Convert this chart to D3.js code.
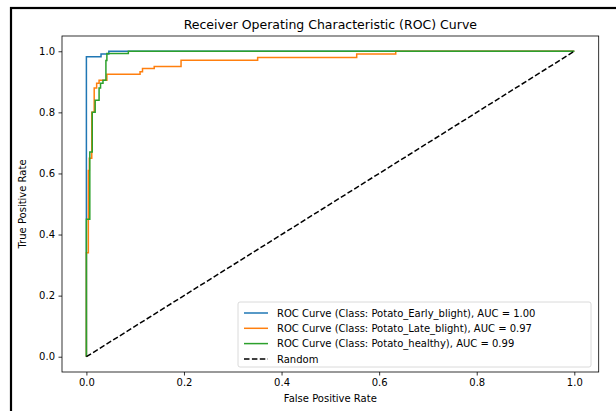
<!DOCTYPE html>
<html>
<head>
<meta charset="utf-8">
<script src="https://cdn.jsdelivr.net/npm/d3@7"></script>
<style>
  body { margin: 0; background: #fff; }
  text { font-family: "DejaVu Sans", sans-serif; fill: #000; }
</style>
</head>
<body>
<script>
const width = 616;
const height = 411;

// データ
const classNames = ["Potato_Early_blight", "Potato_Late_blight", "Potato_healthy"];
const aucValues = [1.00, 0.97, 0.99];
const colors = ["#1f77b4", "#ff7f0e", "#2ca02c"];

const fprEarly = [0, 0, 0.03, 0.03, 0.046, 0.046, 1];
const tprEarly = [0, 0.982, 0.982, 0.991, 0.991, 1, 1];

const fprLate = [0, 0, 0.004, 0.004, 0.006, 0.006, 0.011, 0.011, 0.016, 0.016, 0.021, 0.021, 0.026, 0.026, 0.042, 0.042,
  0.11, 0.11, 0.115, 0.115, 0.139, 0.139, 0.194, 0.194, 0.351, 0.351, 0.554, 0.554, 0.634, 0.634, 1];
const tprLate = [0, 0.34, 0.34, 0.61, 0.61, 0.65, 0.65, 0.80, 0.80, 0.88, 0.88, 0.895, 0.895, 0.905, 0.905, 0.925,
  0.925, 0.933, 0.933, 0.944, 0.944, 0.95, 0.95, 0.971, 0.971, 0.98, 0.98, 0.991, 0.991, 1, 1];

const fprHealthy = [0, 0, 0.007, 0.007, 0.012, 0.012, 0.018, 0.018, 0.026, 0.026, 0.029, 0.029, 0.034, 0.034,
  0.04, 0.04, 0.042, 0.042, 0.086, 0.086, 1];
const tprHealthy = [0, 0.45, 0.45, 0.67, 0.67, 0.80, 0.80, 0.84, 0.84, 0.88, 0.88, 0.895, 0.895, 0.905,
  0.905, 0.97, 0.97, 0.993, 0.993, 1, 1];

const randomLine = [0, 1];
const xTicks = [0.0, 0.2, 0.4, 0.6, 0.8, 1.0];
const yTicks = [0.0, 0.2, 0.4, 0.6, 0.8, 1.0];

const curves = [
  { fpr: fprEarly, tpr: tprEarly },
  { fpr: fprLate, tpr: tprLate },
  { fpr: fprHealthy, tpr: tprHealthy }
];

// 描画領域
const plot = { left: 62, top: 36, right: 598.7, bottom: 372 };

const svg = d3.select("body").append("svg")
  .attr("width", width)
  .attr("height", height);

// 外枠
svg.append("rect")
  .attr("x", 11)
  .attr("y", 8)
  .attr("width", width)
  .attr("height", height)
  .attr("fill", "none")
  .attr("stroke", "#000")
  .attr("stroke-width", 2.2);

const x = d3.scaleLinear().domain([-0.05, 1.05]).range([plot.left, plot.right]);
const y = d3.scaleLinear().domain([-0.05, 1.05]).range([plot.bottom, plot.top]);

const line = d3.line()
  .x(d => x(d[0]))
  .y(d => y(d[1]));

// ROC曲線
const g = svg.append("g");
curves.forEach((c, i) => {
  g.append("path")
    .datum(d3.zip(c.fpr, c.tpr))
    .attr("d", line)
    .attr("fill", "none")
    .attr("stroke", colors[i])
    .attr("stroke-width", 1.5)
    .attr("stroke-linejoin", "miter");
});

g.append("path")
  .datum(d3.zip(randomLine, randomLine))
  .attr("d", line)
  .attr("fill", "none")
  .attr("stroke", "#000")
  .attr("stroke-width", 1.5)
  .attr("stroke-dasharray", "5.5,2.4");

// 軸
const xAxis = svg.append("g")
  .attr("transform", `translate(0,${plot.bottom})`)
  .call(d3.axisBottom(x).tickValues(xTicks).tickFormat(d3.format(".1f")).tickSize(3.5).tickPadding(3.5));
const yAxis = svg.append("g")
  .attr("transform", `translate(${plot.left},0)`)
  .call(d3.axisLeft(y).tickValues(yTicks).tickFormat(d3.format(".1f")).tickSize(3.5).tickPadding(3.5));

[xAxis, yAxis].forEach(a => {
  a.select(".domain").remove();
  a.selectAll("line").attr("stroke", "#000").attr("stroke-width", 0.8);
  a.selectAll("text").style("font-family", "DejaVu Sans").style("font-size", "10px").attr("fill", "#000");
});

// 枠線
svg.append("rect")
  .attr("x", plot.left)
  .attr("y", plot.top)
  .attr("width", plot.right - plot.left)
  .attr("height", plot.bottom - plot.top)
  .attr("fill", "none")
  .attr("stroke", "#000")
  .attr("stroke-width", 0.8);

// タイトル・ラベル
svg.append("text")
  .attr("x", (plot.left + plot.right) / 2)
  .attr("y", 29)
  .attr("text-anchor", "middle")
  .style("font-size", "12.5px")
  .text("Receiver Operating Characteristic (ROC) Curve");

svg.append("text")
  .attr("x", (plot.left + plot.right) / 2)
  .attr("y", 402)
  .attr("text-anchor", "middle")
  .style("font-size", "10px")
  .text("False Positive Rate");

svg.append("text")
  .attr("transform", `translate(26,${(plot.top + plot.bottom) / 2}) rotate(-90)`)
  .attr("text-anchor", "middle")
  .style("font-size", "10px")
  .text("True Positive Rate");

// 凡例
const legendItems = classNames.map((n, i) => ({
  label: `ROC Curve (Class: ${n}), AUC = ${aucValues[i].toFixed(2)}`,
  color: colors[i],
  dash: null
}));
legendItems.push({ label: "Random", color: "#000", dash: "5.5,2.4" });

const legend = svg.append("g");
legend.append("rect")
  .attr("x", 238)
  .attr("y", 302)
  .attr("width", 353)
  .attr("height", 65)
  .attr("rx", 2)
  .attr("fill", "#fff")
  .attr("fill-opacity", 0.8)
  .attr("stroke", "#d0d0d0")
  .attr("stroke-width", 0.8);

legendItems.forEach((d, i) => {
  const ly = 313 + i * 15.3;
  legend.append("line")
    .attr("x1", 244).attr("x2", 268)
    .attr("y1", ly).attr("y2", ly)
    .attr("stroke", d.color)
    .attr("stroke-width", 1.5)
    .attr("stroke-dasharray", d.dash);
  legend.append("text")
    .attr("x", 277)
    .attr("y", ly + 3.6)
    .style("font-size", "10px")
    .text(d.label);
});
</script>
</body>
</html>
